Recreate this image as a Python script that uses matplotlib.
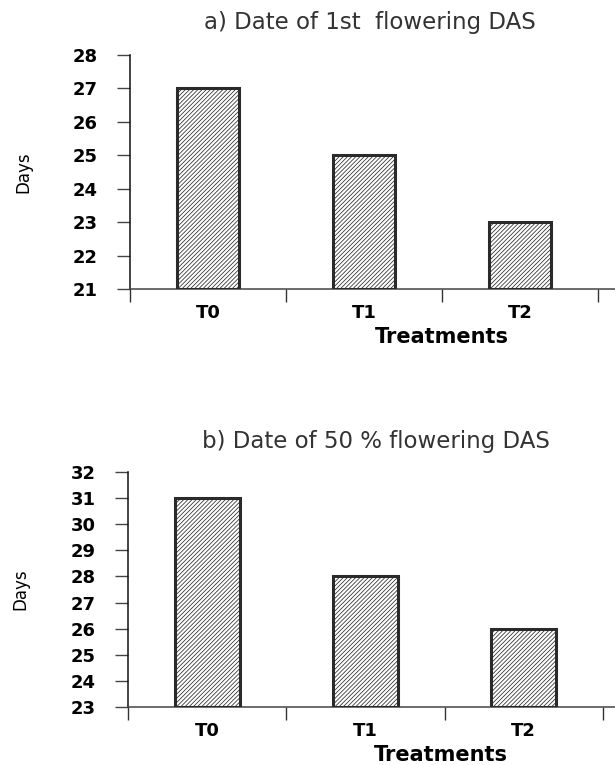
import matplotlib.pyplot as plt
import matplotlib as mpl

treatments = ["T0", "T1", "T2"]
first_flowering = [27, 25, 23]
fifty_flowering = [31, 28, 26]

mpl.rcParams["hatch.color"] = "#9a9a9a"
mpl.rcParams["hatch.linewidth"] = 0.55

fig = plt.figure(figsize=(6.15, 7.65), dpi=100)


def draw_panel(ax, values, title, ylim, xmax, bar_width, title_x, title_y):
    x = range(len(treatments))
    ax.bar(
        x,
        [v - ylim[0] for v in values],
        bottom=ylim[0],
        width=bar_width,
        color="white",
        edgecolor="#2a2a2a",
        linewidth=2.2,
        hatch="////////",
        zorder=3,
    )
    ax.set_ylim(*ylim)
    ax.set_xlim(-0.5, xmax)
    ax.set_yticks(range(ylim[0], ylim[1] + 1))
    ax.set_xticks(list(x))
    ax.set_xticklabels(treatments, fontweight="bold", fontsize=13)
    ax.tick_params(axis="x", length=0, pad=11)
    # category boundary ticks
    ax.set_xticks([-0.5, 0.5, 1.5, 2.5], minor=True)
    ax.tick_params(axis="x", which="minor", length=9, width=1, direction="out", color="#333333")
    ax.tick_params(axis="y", length=9.4, width=1, direction="out", color="#444444",
                   labelsize=13, pad=14)
    for lab in ax.get_yticklabels():
        lab.set_fontweight("bold")
    for side in ["top", "right"]:
        ax.spines[side].set_visible(False)
    ax.spines["left"].set_color("#111111")
    ax.spines["bottom"].set_color("#444444")
    for side in ["left", "bottom"]:
        ax.spines[side].set_linewidth(1.1)
    ax.set_xlabel("Treatments", fontweight="bold", fontsize=15, va="center")
    ax.xaxis.set_label_coords(0.643, -0.205)
    ax.set_ylabel("Days", fontsize=12, va="center")
    ax.yaxis.set_label_coords(-0.22, 0.5)
    ax.text(title_x, title_y, title, transform=ax.transAxes, fontsize=16.5,
            color="#333333", ha="center", va="center")


ax1 = fig.add_axes([0.2114, 0.6222, 0.7886, 0.3059])
draw_panel(ax1, first_flowering, "a) Date of 1st  flowering DAS", (21, 28), 2.609, 0.4,
           0.495, 1.141)

ax2 = fig.add_axes([0.2081, 0.0758, 0.7919, 0.3072])
draw_panel(ax2, fifty_flowering, "b) Date of 50 % flowering DAS", (23, 32), 2.576, 0.41,
           0.509, 1.128)

plt.savefig("out.png", dpi=100)
